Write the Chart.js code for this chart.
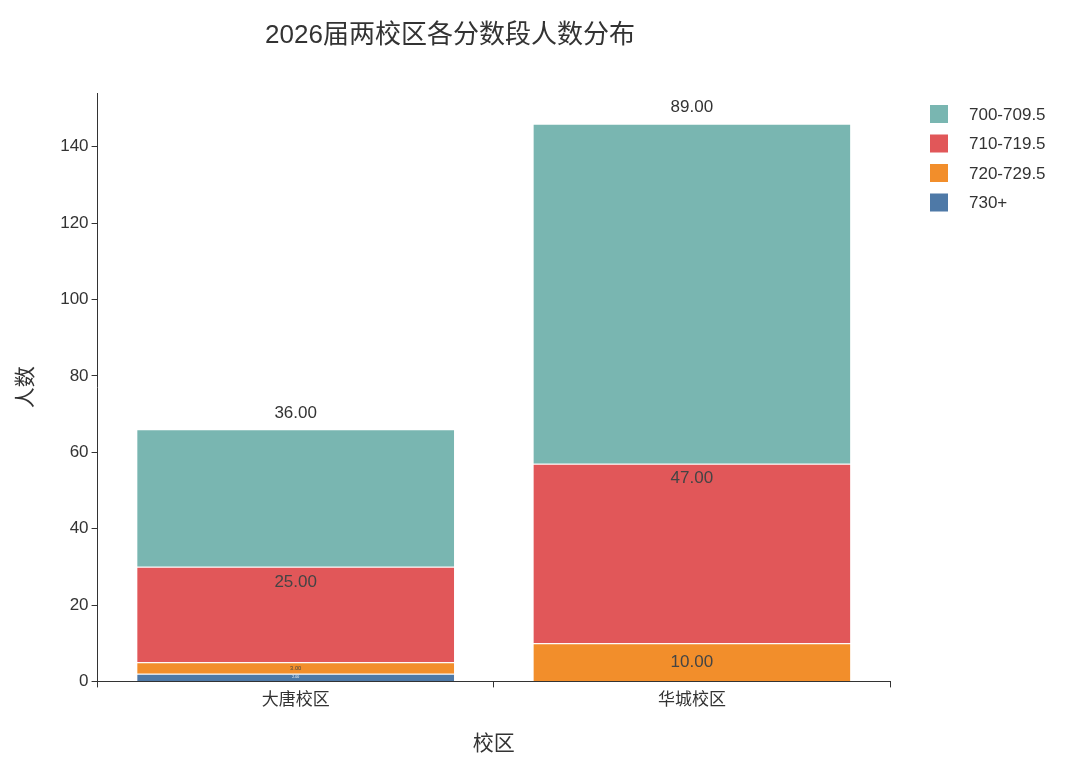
<!DOCTYPE html>
<html><head><meta charset="utf-8">
<script src="https://cdn.jsdelivr.net/npm/chart.js@4"></script>
<style>body{margin:0;background:#fff}#w{width:1080px;height:771px}</style>
</head><body><div id="w"><canvas id="c"></canvas></div>
<script>
const categories = ['大唐校区','华城校区'];
const seriesNames = ['730+','720-729.5','710-719.5','700-709.5'];
const s730 = [2, 0];
const s720 = [3, 10];
const s710 = [25, 47];
const s700 = [36, 89];
const colors = ['#4e79a7','#f28e2b','#e15759','#79b6b1'];
const values = [s730, s720, s710, s700];
const FONT = "'Liberation Sans','Noto Sans CJK SC',sans-serif";

const labelPlugin = {
  id:'lbl',
  afterDatasetsDraw(chart){
    const ctx = chart.ctx;
    chart.data.datasets.forEach((ds,di)=>{
      const meta = chart.getDatasetMeta(di);
      meta.data.forEach((bar,i)=>{
        const v = ds.data[i];
        if(!v) return;
        const h = Math.abs(bar.base - bar.y);
        ctx.save();
        ctx.textAlign='center';
        let size = 17, y, col='#444';
        if(di===3){ y = bar.y-16; col='#333'; }
        else if(di===2){ y = bar.y+15; }
        else { size = Math.min(17, h*0.5); y=(bar.y+bar.base)/2; col = di===0?'#fff':'#444'; }
        if(size<2) size=2;
        ctx.font = size+'px '+FONT;
        ctx.fillStyle=col;
        ctx.textBaseline='middle';
        ctx.fillText(v.toFixed(2), bar.x, y);
        ctx.restore();
      });
    });
    // legend
    const x0 = chart.chartArea.right + 40;
    for(let k=0;k<4;k++){
      const di = 3-k, y = 105 + k*29.5;
      ctx.fillStyle = colors[di];
      ctx.fillRect(x0, y, 18, 18);
      ctx.fillStyle = '#333';
      ctx.font = '17px '+FONT;
      ctx.textAlign='left'; ctx.textBaseline='middle';
      ctx.fillText(seriesNames[di], x0+39, y+10);
    }
  }
};

new Chart(document.getElementById('c'),{
  type:'bar',
  data:{labels:categories,datasets:values.map((d,i)=>({label:seriesNames[i],data:d,backgroundColor:colors[i],borderColor:'#fff',borderWidth:{top:1},borderSkipped:false,barPercentage:0.8,categoryPercentage:1}))},
  options:{
    responsive:true,maintainAspectRatio:false,animation:false,
    layout:{padding:{left:10,right:190,top:10,bottom:10}},
    plugins:{
      title:{display:true,text:'2026届两校区各分数段人数分布',color:'#333',font:{size:26,family:FONT,weight:'normal'},padding:{top:10,bottom:42}},
      legend:{display:false},
      tooltip:{enabled:false}
    },
    scales:{
      x:{stacked:true,grid:{drawOnChartArea:false,color:'#333',tickLength:6},border:{color:'#333'},ticks:{color:'#333',font:{size:17,family:FONT}},title:{display:true,text:'校区',color:'#333',font:{size:21,family:FONT},padding:{top:18}}},
      y:{stacked:true,min:0,max:154,grid:{drawOnChartArea:false,color:'#333',tickLength:6},border:{color:'#333'},
        afterBuildTicks(a){a.ticks=[0,20,40,60,80,100,120,140].map(v=>({value:v}));},
        ticks:{color:'#333',font:{size:17,family:FONT}},
        title:{display:true,text:'人数',color:'#333',font:{size:21,family:FONT},padding:{bottom:18}}}
    }
  },
  plugins:[labelPlugin]
});
</script></body></html>
